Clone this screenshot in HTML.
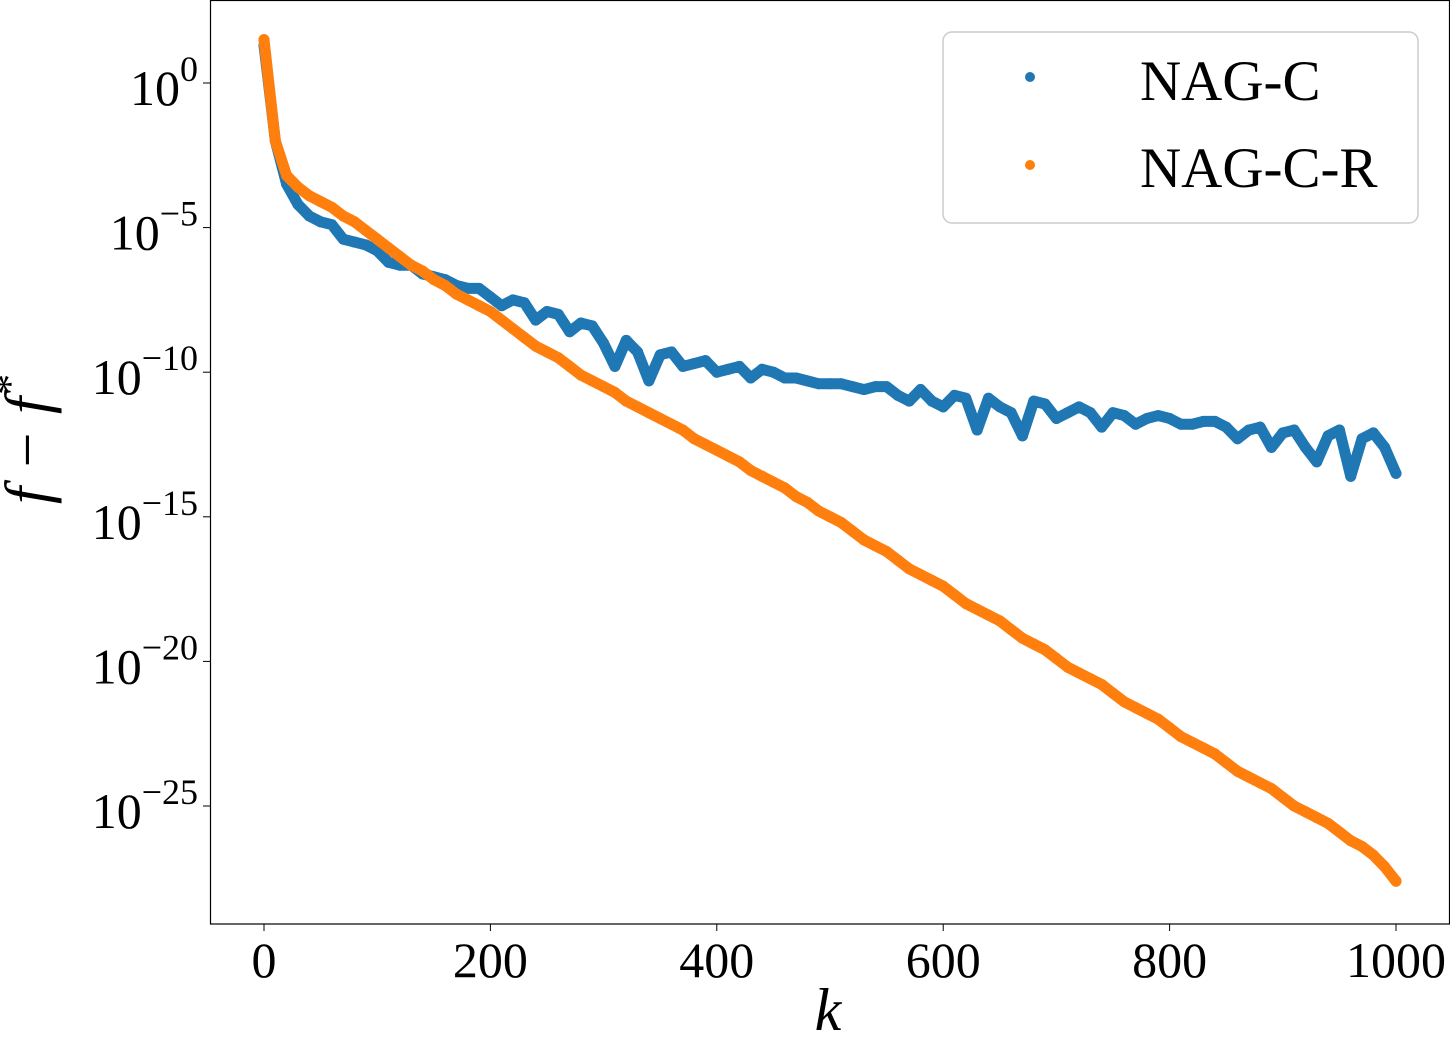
<!DOCTYPE html>
<html><head><meta charset="utf-8"><style>
body{margin:0;background:#fff;}
svg{display:block;font-family:"Liberation Serif",serif;}
</style></head><body>
<svg id="chart" width="1450" height="1044" xmlns="http://www.w3.org/2000/svg">
<g id="marks"></g>
<rect x="210.5" y="0.5" width="1239" height="923.5" fill="none" stroke="#000" stroke-width="1.2"/>
<g id="axes"></g>
<text x="828" y="1030" font-size="60" font-style="italic" text-anchor="middle">k</text>
<text transform="translate(48,440) rotate(-90)" font-size="62" font-style="italic" text-anchor="middle">f − f<tspan dy="-24" font-size="42">*</tspan></text>
<g>
<rect x="943" y="32" width="475" height="191" rx="9" fill="#fff" stroke="#ccc" stroke-width="1.5"/>
<circle cx="1030" cy="77" r="5" fill="#1f77b4"/>
<text x="1140" y="100" font-size="57">NAG-C</text>
<circle cx="1030" cy="165" r="5" fill="#ff7f0e"/>
<text x="1140" y="187" font-size="57">NAG-C-R</text>
</g>
</svg>
<script>
const kValues = [0,10,20,30,40,50,60,70,80,90,100,110,120,130,140,150,160,170,180,190,200,210,220,230,240,250,260,270,280,290,300,310,320,330,340,350,360,370,380,390,400,410,420,430,440,450,460,470,480,490,500,510,520,530,540,550,560,570,580,590,600,610,620,630,640,650,660,670,680,690,700,710,720,730,740,750,760,770,780,790,800,810,820,830,840,850,860,870,880,890,900,910,920,930,940,950,960,970,980,990,1000];
const nagcLog10 = [1.3,-2.0,-3.5,-4.2,-4.6,-4.8,-4.9,-5.4,-5.5,-5.6,-5.8,-6.2,-6.3,-6.3,-6.6,-6.7,-6.8,-7.0,-7.1,-7.1,-7.4,-7.7,-7.5,-7.6,-8.2,-7.9,-8.0,-8.6,-8.3,-8.4,-9.0,-9.8,-8.9,-9.3,-10.3,-9.4,-9.3,-9.8,-9.7,-9.6,-10.0,-9.9,-9.8,-10.2,-9.9,-10.0,-10.2,-10.2,-10.3,-10.4,-10.4,-10.4,-10.5,-10.6,-10.5,-10.5,-10.8,-11.0,-10.6,-11.0,-11.2,-10.8,-10.9,-12.0,-10.9,-11.2,-11.4,-12.2,-11.0,-11.1,-11.6,-11.4,-11.2,-11.4,-11.9,-11.4,-11.5,-11.8,-11.6,-11.5,-11.6,-11.8,-11.8,-11.7,-11.7,-11.9,-12.3,-12.0,-11.9,-12.6,-12.1,-12.0,-12.6,-13.1,-12.2,-12.0,-13.6,-12.3,-12.1,-12.6,-13.5];
const nagcrLog10 = [1.5,-2.0,-3.2,-3.6,-3.9,-4.1,-4.3,-4.6,-4.8,-5.1,-5.4,-5.7,-6.0,-6.3,-6.5,-6.8,-7.0,-7.3,-7.5,-7.7,-7.9,-8.2,-8.5,-8.8,-9.1,-9.3,-9.5,-9.8,-10.1,-10.3,-10.5,-10.7,-11.0,-11.2,-11.4,-11.6,-11.8,-12.0,-12.3,-12.5,-12.7,-12.9,-13.1,-13.4,-13.6,-13.8,-14.0,-14.3,-14.5,-14.8,-15.0,-15.2,-15.5,-15.8,-16.0,-16.2,-16.5,-16.8,-17.0,-17.2,-17.4,-17.7,-18.0,-18.2,-18.4,-18.6,-18.9,-19.2,-19.4,-19.6,-19.9,-20.2,-20.4,-20.6,-20.8,-21.1,-21.4,-21.6,-21.8,-22.0,-22.3,-22.6,-22.8,-23.0,-23.2,-23.5,-23.8,-24.0,-24.2,-24.4,-24.7,-25.0,-25.2,-25.4,-25.6,-25.9,-26.2,-26.4,-26.7,-27.1,-27.6];
const xTicks = [0,200,400,600,800,1000];
const yTickExps = [0,-5,-10,-15,-20,-25];

const NS="http://www.w3.org/2000/svg";
const xs = k => 264 + k*1.132;
const ys = e => 83 - e*28.92;
const marks=document.getElementById('marks'), axes=document.getElementById('axes');
function drawSeries(vals,color,name){
  const pts=kValues.map((k,i)=>xs(k)+','+ys(vals[i])).join(' ');
  const pl=document.createElementNS(NS,'polyline');
  
  
  pl.setAttribute('points',pts);pl.setAttribute('fill','none');pl.setAttribute('stroke',color);
  pl.setAttribute('stroke-width','11');pl.setAttribute('stroke-linejoin','round');pl.setAttribute('stroke-linecap','round');
  marks.appendChild(pl);
  kValues.forEach((k,i)=>{
    const c=document.createElementNS(NS,'circle');
    
    
    c.setAttribute('cx',xs(k));c.setAttribute('cy',ys(vals[i]));c.setAttribute('r',5.5);c.setAttribute('fill',color);
    marks.appendChild(c);
  });
}
drawSeries(nagcLog10,'#1f77b4','nag-c');
drawSeries(nagcrLog10,'#ff7f0e','nag-c-r');
xTicks.forEach(t=>{
  const l=document.createElementNS(NS,'line');
  
  
  l.setAttribute('x1',xs(t));l.setAttribute('x2',xs(t));l.setAttribute('y1',924);l.setAttribute('y2',931);l.setAttribute('stroke','#000');
  axes.appendChild(l);
  const tx=document.createElementNS(NS,'text');
  
  
  tx.setAttribute('x',xs(t));tx.setAttribute('y',977);tx.setAttribute('font-size','50');tx.setAttribute('text-anchor','middle');
  tx.textContent=t;axes.appendChild(tx);
});
yTickExps.forEach(e=>{
  const l=document.createElementNS(NS,'line');
  
  
  l.setAttribute('x1',203);l.setAttribute('x2',210);l.setAttribute('y1',ys(e));l.setAttribute('y2',ys(e));l.setAttribute('stroke','#000');
  axes.appendChild(l);
  const tx=document.createElementNS(NS,'text');
  
  
  tx.setAttribute('x',198);tx.setAttribute('y',ys(e)+22);tx.setAttribute('font-size','50');tx.setAttribute('text-anchor','end');
  const sup=e===0?'0':'−'+(-e);
  tx.innerHTML='10<tspan dy="-24" font-size="36">'+sup+'</tspan>';
  axes.appendChild(tx);
});
</script>
</body></html>
